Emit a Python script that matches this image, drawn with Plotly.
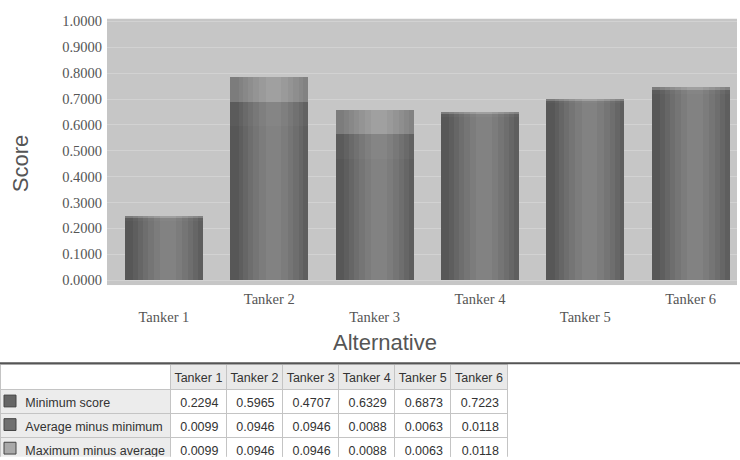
import plotly.graph_objects as go

# Scores per alternative (stacked: minimum, then average-minimum, then maximum-average)
alternatives = ["Tanker 1", "Tanker 2", "Tanker 3", "Tanker 4", "Tanker 5", "Tanker 6"]
minimum_score = [0.2294, 0.5965, 0.4707, 0.6329, 0.6873, 0.7223]
avg_minus_min = [0.0099, 0.0946, 0.0946, 0.0088, 0.0063, 0.0118]
max_minus_avg = [0.0099, 0.0946, 0.0946, 0.0088, 0.0063, 0.0118]
series_names = ["Minimum score", "Average minus minimum", "Maximum minus average"]
y_ticks = [0.0, 0.1, 0.2, 0.3, 0.4, 0.5, 0.6, 0.7, 0.8, 0.9, 1.0]

W, H = 740, 460
series = [minimum_score, avg_minus_min, max_minus_avg]

# Cylinder-like shading: stripes from edge colour toward a lighter centre
shades = [
    ["#575757", "#5e5e5e", "#666666", "#6e6e6e", "#757575", "#7c7c7c", "#828282"],
    ["#5b5b5b", "#626262", "#6a6a6a", "#717171", "#787878", "#7f7f7f", "#858585"],
    ["#7c7c7c", "#828282", "#888888", "#8e8e8e", "#949494", "#9a9a9a", "#a0a0a0"],
]
swatch_colors = ["#666666", "#707070", "#a9a9a9"]
stripe_widths = [0.74, 0.66, 0.57, 0.48, 0.38, 0.27, 0.15]
highlight_shift = 0.04

fig = go.Figure()
bases = [0.0] * len(alternatives)
for k, vals in enumerate(series):
    for j, w in enumerate(stripe_widths):
        shift = 0.0 if j == 0 else highlight_shift
        fig.add_trace(go.Bar(
            x=list(range(len(alternatives))), y=vals, base=list(bases),
            width=w, offset=shift - w / 2,
            marker=dict(color=shades[k][j], line=dict(width=0)),
            name=series_names[k], showlegend=False, hoverinfo="skip",
        ))
    bases = [b + v for b, v in zip(bases, vals)]

# Data table under the chart
nb = lambda s: s.replace(" ", "\u00a0")
fmt = lambda v: f"{v:.4f}"
label_col = ["\u00a0" * 5 + nb(n) for n in series_names]
value_cols = [[fmt(s[i]) for s in series] for i in range(len(alternatives))]
table_font = dict(family="Liberation Sans, Arial", size=12.5, color="#333333")
header_h, row_h = 25, 24
fig.add_trace(go.Table(
    domain=dict(x=[0, 507 / W], y=[0, 94 / H]),
    columnwidth=[170] + [56] * len(alternatives),
    header=dict(
        values=[""] + [nb(a) for a in alternatives],
        fill_color=["#ffffff"] + ["#e9e9e9"] * len(alternatives),
        line_color="#c4c4c4", align="center", height=header_h,
        font=table_font,
    ),
    cells=dict(
        values=[label_col] + value_cols,
        fill_color=[["#ececec"] * 3] + [["#ffffff"] * 3] * len(alternatives),
        line_color="#c4c4c4", align=["left"] + ["right"] * len(alternatives),
        height=row_h,
        font=table_font,
    ),
))

# Legend swatches inside the label column
shapes = []
for r, c in enumerate(swatch_colors):
    yc = 366 + header_h + row_h * r + row_h / 2
    shapes.append(dict(
        type="rect", xref="paper", yref="paper",
        x0=4 / W, x1=16 / W, y0=1 - (yc + 6) / H, y1=1 - (yc - 6) / H,
        fillcolor=c, line=dict(color="#444444", width=1),
    ))
# Separator line above the table
shapes.append(dict(
    type="line", xref="paper", yref="paper",
    x0=0, x1=1, y0=1 - 364.5 / H, y1=1 - 364.5 / H,
    line=dict(color="#555555", width=2),
))

# Category tick labels, staggered in two rows
ticktext = [("<br>" + a) if i % 2 == 0 else a for i, a in enumerate(alternatives)]

fig.update_layout(
    width=W, height=H,
    margin=dict(l=0, r=0, t=0, b=0),
    paper_bgcolor="#ffffff", plot_bgcolor="#c6c6c6",
    barmode="overlay", bargap=0,
    showlegend=False,
    shapes=shapes,
    xaxis=dict(
        domain=[107 / W, 737 / W], range=[-0.54, 5.44],
        tickvals=list(range(len(alternatives))), ticktext=ticktext,
        showgrid=False, zeroline=False, showline=False, ticks="",
        tickfont=dict(family="Liberation Serif, Times New Roman", size=14.5, color="#555555"),
        ticklabelstandoff=3,
    ),
    yaxis=dict(
        domain=[1 - 285 / H, 1 - 14 / H], range=[-0.019, 1.0103],
        tickvals=y_ticks, tickformat=".4f",
        showgrid=True, gridcolor="#d2d2d2", gridwidth=1,
        zeroline=False, showline=False, ticks="",
        tickfont=dict(family="Liberation Serif, Times New Roman", size=14.5, color="#555555"),
        ticklabelstandoff=4,
    ),
    annotations=[
        dict(text="Score", xref="paper", yref="paper", x=20 / W, y=1 - 162 / H,
             xanchor="center", yanchor="middle",
             textangle=-90, showarrow=False,
             font=dict(family="Liberation Sans, Arial", size=22, color="#555555")),
        dict(text="Alternative", xref="paper", yref="paper", x=385 / W, y=1 - 343 / H,
             xanchor="center", yanchor="middle", showarrow=False,
             font=dict(family="Liberation Sans, Arial", size=22, color="#555555")),
    ],
)

fig.write_html("out.html")
